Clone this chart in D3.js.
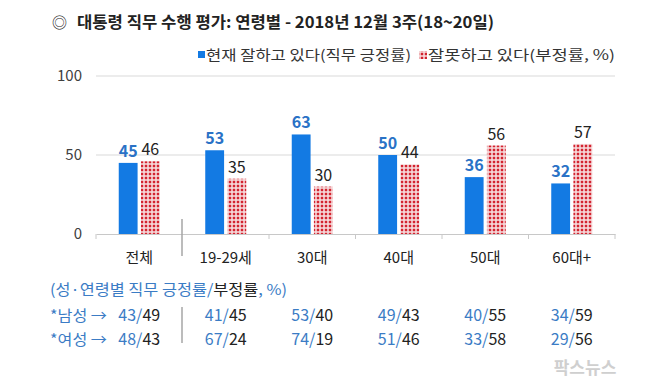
<!DOCTYPE html>
<html><head><meta charset="utf-8">
<script src="https://cdn.jsdelivr.net/npm/d3@7"></script>
<style>html,body{margin:0;padding:0;background:#fff;}svg{display:block;}</style>
</head><body>
<svg id="c" width="650" height="381"></svg>
<script>
const categories = ["전체","19-29세","30대","40대","50대","60대+"];
const positive = [45,53,63,50,36,32];
const negative = [46,35,30,44,56,57];
const yTicks = [0,50,100];
const malePos = [43,41,53,49,40,34];
const maleNeg = [49,45,40,43,55,59];
const femalePos = [48,67,74,51,33,29];
const femaleNeg = [43,24,19,46,58,56];
const titleText = "대통령 직무 수행 평가: 연령별 - 2018년 12월 3주(18~20일)";
const legendPos = "현재 잘하고 있다(직무 긍정률)";
const legendNeg = "잘못하고 있다(부정률, %)";

const FONT = "'Noto Sans CJK KR','Noto Sans',sans-serif";
const BLUE = "#137ae3", LBLUE = "#2a72c6", TBLUE = "#3b7cc5", RED = "#d3232f", DARK = "#222";
const svg = d3.select("#c").style("font-family", FONT);

const defs = svg.append("defs");
const pat = defs.append("pattern").attr("id","dots").attr("patternUnits","userSpaceOnUse")
  .attr("width",4).attr("height",4);
pat.append("rect").attr("width",4).attr("height",4).attr("fill","#f8e0e1");
pat.append("rect").attr("width",2.5).attr("height",2.5).attr("x",0.75).attr("y",0.75).attr("fill",RED);

// Title
svg.append("text").attr("x",52).attr("y",28).attr("font-size",15).attr("fill",DARK).text("◎");
svg.append("text").attr("x",77).attr("y",28).attr("font-size",16).attr("font-weight","bold")
  .attr("fill",DARK).attr("textLength",417).attr("lengthAdjust","spacingAndGlyphs").text(titleText);

// Legend
svg.append("rect").attr("x",198).attr("y",51).attr("width",7).attr("height",7).attr("fill",BLUE);
svg.append("text").attr("x",206).attr("y",60).attr("font-size",14).attr("fill","#333")
  .attr("textLength",205).attr("lengthAdjust","spacingAndGlyphs").text(legendPos);
svg.append("rect").attr("x",419).attr("y",51).attr("width",8).attr("height",8).attr("fill","url(#dots)");
svg.append("text").attr("x",428).attr("y",60).attr("font-size",14).attr("fill","#333")
  .attr("textLength",187).attr("lengthAdjust","spacingAndGlyphs").text(legendNeg);

// Scales
const x = d3.scaleBand().domain(categories).range([96,615]).padding(0);
const bw = x.bandwidth();
const x1 = d3.scaleBand().domain(["pos","neg"]).range([bw/2-20.5, bw/2+20.5]).paddingInner(0.15);
const y = d3.scaleLinear().domain([0,100]).range([234,76]);

// Gridlines
svg.append("g").selectAll("line").data(yTicks.filter(d=>d>0)).join("line")
  .attr("x1",96).attr("x2",615).attr("y1",d=>y(d)).attr("y2",d=>y(d))
  .attr("stroke","#d9d9d9").attr("stroke-width",1);

// Y axis labels
svg.append("g").selectAll("text").data(yTicks).join("text")
  .attr("x",82).attr("y",d=>y(d)).attr("dy","0.35em").attr("text-anchor","end")
  .attr("font-size",15).attr("fill","#404040").text(d=>d);

// X axis
const xAxis = d3.axisBottom(x).tickSize(0).tickFormat("");
const gx = svg.append("g").attr("transform",`translate(0,${y(0)})`).call(xAxis);
gx.select(".domain").attr("stroke","#c8c8c8");
const bounds = categories.map(c=>x(c)).concat([x(categories[categories.length-1])+bw]);
svg.append("g").selectAll("line").data(bounds.filter((d,i)=>i!==1)).join("line")
  .attr("x1",d=>d).attr("x2",d=>d).attr("y1",y(0)).attr("y2",y(0)+5).attr("stroke","#c8c8c8");
// divider
svg.append("line").attr("x1",x(categories[1])-0.5).attr("x2",x(categories[1])-0.5)
  .attr("y1",219).attr("y2",256).attr("stroke","#a6a6a6").attr("stroke-width",1.5);

svg.append("g").selectAll("text").data(categories).join("text")
  .attr("x",d=>x(d)+bw/2).attr("y",263).attr("text-anchor","middle")
  .attr("font-size",15).attr("fill",DARK).text(d=>d);

// Bars
const g = svg.append("g");
g.selectAll(".bp").data(categories).join("rect").attr("class","bp")
  .attr("x",(d)=>x(d)+x1("pos")).attr("width",x1.bandwidth())
  .attr("y",(d,i)=>y(positive[i])).attr("height",(d,i)=>y(0)-y(positive[i])).attr("fill",BLUE);
g.selectAll(".bn").data(categories).join("rect").attr("class","bn")
  .attr("x",(d)=>x(d)+x1("neg")).attr("width",x1.bandwidth())
  .attr("y",(d,i)=>y(negative[i])).attr("height",(d,i)=>y(0)-y(negative[i])).attr("fill","url(#dots)");

g.selectAll(".lp").data(categories).join("text").attr("class","lp")
  .attr("x",d=>x(d)+x1("pos")+x1.bandwidth()/2).attr("y",(d,i)=>y(positive[i])-6)
  .attr("text-anchor","middle").attr("font-size",16).attr("font-weight",600).attr("fill",LBLUE)
  .text((d,i)=>positive[i]);
g.selectAll(".ln").data(categories).join("text").attr("class","ln")
  .attr("x",d=>x(d)+x1("neg")+x1.bandwidth()/2).attr("y",(d,i)=>y(negative[i])-6)
  .attr("text-anchor","middle").attr("font-size",16).attr("fill",DARK)
  .text((d,i)=>negative[i]);

// Bottom table
const hdr = svg.append("text").attr("x",50).attr("y",295).attr("font-size",15)
  .attr("textLength",237).attr("lengthAdjust","spacingAndGlyphs");
hdr.append("tspan").attr("fill",TBLUE).text("(성·연령별 직무 긍정률/");
hdr.append("tspan").attr("fill",DARK).text("부정률");
hdr.append("tspan").attr("fill",TBLUE).text(", %)");

const rows = [
  {label:"*남성 →", pos:malePos, neg:maleNeg, yy:321},
  {label:"*여성 →", pos:femalePos, neg:femaleNeg, yy:345}
];
rows.forEach(r=>{
  svg.append("text").attr("x",50).attr("y",r.yy).attr("font-size",15).attr("fill",TBLUE)
    .attr("textLength",57).attr("lengthAdjust","spacingAndGlyphs").text(r.label);
  svg.append("g").selectAll("text").data(categories).join("text")
    .attr("x",d=>x(d)+bw/2).attr("y",r.yy).attr("text-anchor","middle").attr("font-size",16)
    .each(function(d,i){
      const t = d3.select(this);
      t.append("tspan").attr("fill",TBLUE).text(r.pos[i]+"/");
      t.append("tspan").attr("fill",DARK).text(r.neg[i]);
    });
});
svg.append("line").attr("x1",182).attr("x2",182).attr("y1",307).attr("y2",343)
  .attr("stroke","#a6a6a6").attr("stroke-width",1.5);

// watermark
svg.append("text").attr("x",585).attr("y",374).attr("text-anchor","middle").attr("font-size",17)
  .attr("font-weight","bold").attr("fill","#c4c4c4").attr("opacity",0.8).text("팍스뉴스");
</script>
</body></html>
